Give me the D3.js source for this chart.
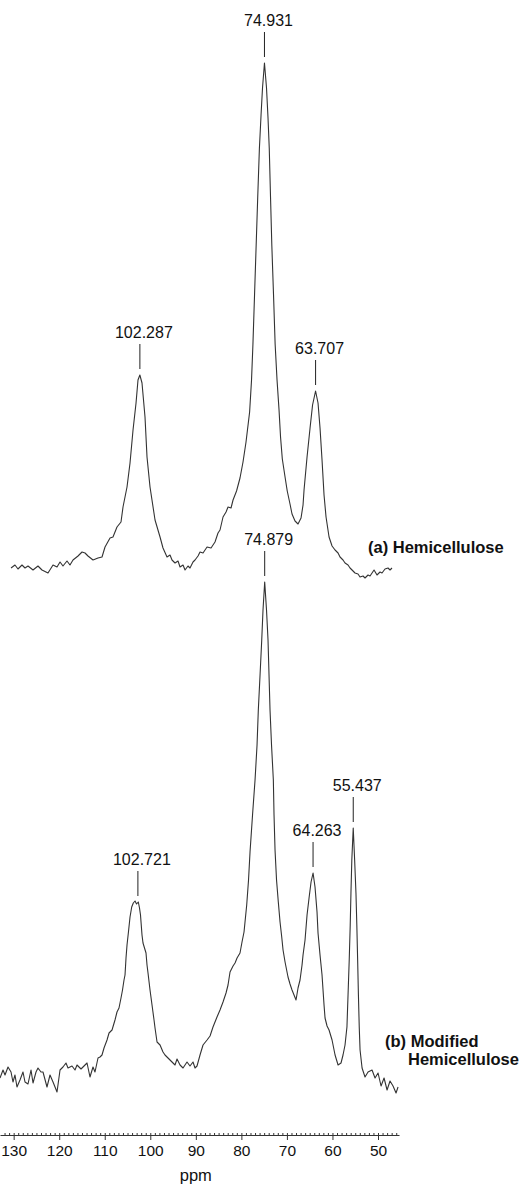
<!DOCTYPE html>
<html>
<head>
<meta charset="utf-8">
<title>13C NMR - Hemicellulose</title>
<script src="https://cdnjs.cloudflare.com/ajax/libs/d3/7.8.5/d3.min.js"></script>
<style>
    body { margin: 0; background: #fff; }
    svg text { font-family: "Liberation Sans", Arial, sans-serif; fill: #111; }
</style>
</head>
<body>
<div id="chart"></div>
<script>
    // [ppm, intensity], arbitrary units
    const spectrumA = [
        [130.58, 0.4], [129.71, 1.0], [129.05, 0.2], [128.17, 1.0], [127.51, 0.4], [126.85, 0.8],
        [125.75, 0.0], [124.66, 0.8], [123.78, 0.0], [122.46, -0.6], [121.36, 1.0], [120.48, 0.6],
        [119.82, 1.6], [119.17, 0.8], [118.29, 1.8], [117.63, 1.0], [116.97, 2.0], [115.87, 2.8],
        [114.99, 3.6], [114.33, 3.4], [113.68, 2.8], [112.58, 2.0], [111.48, 2.4], [110.60, 2.6],
        [109.94, 4.6], [108.84, 6.4], [108.19, 6.6], [107.31, 8.6], [106.43, 9.6], [105.99, 12.6],
        [105.11, 16.6], [104.45, 21.4], [103.79, 28.0], [103.13, 33.4], [102.70, 38.0], [102.29, 39.0],
        [101.82, 37.4], [101.16, 30.6], [100.72, 22.6], [100.06, 16.6], [98.96, 10.0], [97.86, 6.6],
        [97.21, 4.4], [96.33, 2.6], [95.67, 3.0], [95.23, 2.0], [94.57, 1.4], [93.91, 1.8],
        [93.47, 0.6], [92.81, 1.0], [92.37, 0.0], [91.72, 0.8], [91.28, 0.4], [90.62, 1.6],
        [90.18, 2.0], [89.52, 2.8], [89.08, 3.6], [88.42, 3.4], [87.54, 4.6], [86.66, 4.4],
        [85.79, 5.6], [85.13, 7.4], [84.69, 8.0], [84.03, 10.6], [83.37, 11.6], [82.93, 12.6],
        [82.27, 12.4], [81.83, 14.0], [81.06, 15.8], [80.30, 18.4], [79.64, 21.6], [78.98, 25.6],
        [78.19, 31.6], [77.77, 38.0], [77.46, 45.2], [77.11, 55.0], [76.76, 64.8], [76.41, 74.6],
        [76.04, 84.4], [75.68, 91.0], [75.36, 96.4], [74.93, 101.4], [74.48, 96.4], [74.15, 90.4],
        [73.88, 84.4], [73.60, 74.6], [73.31, 64.8], [72.94, 55.0], [72.59, 45.2], [72.17, 38.0],
        [71.73, 32.0], [71.40, 26.6], [71.01, 22.2], [70.41, 18.6], [69.93, 15.8], [69.32, 13.2],
        [68.88, 11.2], [68.22, 9.8], [67.56, 9.2], [66.90, 10.4], [66.46, 13.0], [66.24, 16.0],
        [65.58, 22.6], [64.92, 28.4], [64.37, 33.0], [63.71, 35.8], [63.17, 33.4], [62.73, 28.4],
        [62.29, 22.0], [61.85, 15.0], [61.41, 10.6], [60.75, 6.6], [60.09, 4.8], [59.43, 4.0],
        [58.77, 3.4], [58.34, 2.6], [57.68, 2.0], [57.24, 1.4], [56.58, 1.0], [56.14, 0.4],
        [55.48, -0.2], [55.05, -0.6], [54.39, -0.8], [53.95, -1.4], [53.29, -1.2], [52.85, -1.6],
        [52.19, -1.0], [51.75, -1.2], [51.31, -0.6], [50.87, 0.0], [50.22, -1.0], [49.56, -0.4],
        [49.12, -0.6], [48.46, 0.2], [47.80, 0.4], [47.36, 0.0], [46.93, 0.4]
    ];

    const spectrumB = [
        [133.00, -1.2], [132.34, 0.4], [131.90, -0.6], [131.24, 1.0], [130.58, 0.0], [130.15, -2.0],
        [129.71, -0.6], [129.27, -3.0], [128.61, -1.6], [127.95, 0.0], [127.51, -2.0], [126.85, -2.4],
        [126.19, 0.4], [125.75, -2.2], [125.09, 0.0], [124.66, 0.8], [124.00, 0.0], [123.56, 0.0],
        [122.68, -3.0], [122.02, -0.6], [121.36, -2.0], [120.48, -4.0], [119.82, 0.4], [119.17, 1.0],
        [118.51, 1.8], [118.07, 0.8], [117.19, 1.2], [116.53, 0.4], [116.09, 1.4], [115.21, 0.6],
        [114.33, 1.4], [113.89, 1.8], [113.24, -1.0], [112.58, 1.0], [112.14, 0.0], [111.48, 2.8],
        [111.04, 3.0], [110.60, 3.4], [110.16, 4.8], [109.50, 6.4], [109.06, 7.8], [108.40, 8.4],
        [107.75, 10.4], [107.31, 12.0], [106.87, 12.8], [106.43, 14.8], [106.10, 16.4], [105.77, 18.4],
        [105.55, 19.4], [105.33, 22.8], [105.11, 25.4], [104.82, 27.8], [104.45, 31.0], [104.08, 33.0],
        [103.73, 33.8], [103.35, 34.2], [103.02, 33.6], [102.63, 34.0], [102.37, 32.8], [102.15, 31.4],
        [101.82, 27.4], [101.60, 25.8], [101.27, 24.8], [100.94, 23.8], [100.72, 21.4], [100.50, 19.8],
        [100.06, 16.4], [99.62, 13.4], [99.18, 10.4], [98.96, 8.8], [98.52, 6.0], [97.86, 5.4],
        [97.21, 4.0], [96.77, 3.4], [96.11, 2.8], [95.23, 2.0], [94.57, 1.4], [94.13, 2.6],
        [93.47, 1.4], [92.81, 0.8], [91.94, 2.0], [91.28, 1.2], [90.62, 2.0], [90.18, 0.8],
        [89.74, 1.2], [89.08, 3.4], [88.42, 5.4], [87.54, 6.4], [86.88, 7.2], [86.23, 9.0],
        [85.35, 11.0], [84.69, 12.4], [84.03, 14.0], [83.37, 15.8], [82.93, 17.4], [82.49, 20.0],
        [81.83, 21.2], [81.39, 21.8], [80.95, 22.8], [80.30, 23.8], [79.86, 26.0], [79.42, 28.0],
        [78.83, 33.4], [78.43, 38.4], [78.10, 44.0], [77.55, 51.4], [77.00, 58.4], [76.56, 65.4],
        [76.28, 72.4], [75.90, 79.4], [75.53, 86.4], [75.25, 92.4], [74.88, 98.0], [74.48, 92.4],
        [74.15, 86.4], [73.93, 79.4], [73.71, 72.4], [73.38, 65.4], [72.98, 58.4], [72.83, 51.4],
        [72.61, 44.4], [72.28, 38.4], [71.89, 34.0], [71.51, 30.0], [71.14, 27.0], [70.85, 24.4],
        [70.41, 22.0], [69.76, 19.0], [69.32, 17.6], [68.88, 16.4], [68.44, 15.4], [68.00, 14.4],
        [67.56, 16.8], [67.12, 18.4], [66.68, 21.4], [66.46, 23.4], [66.02, 26.4], [65.58, 31.4],
        [65.14, 34.8], [64.70, 38.0], [64.26, 39.8], [63.83, 37.0], [63.39, 32.0], [63.17, 27.8],
        [62.73, 23.4], [62.29, 19.4], [61.85, 13.4], [61.63, 10.8], [61.19, 9.2], [60.75, 8.4],
        [60.09, 6.4], [59.43, 3.4], [58.77, 1.4], [58.12, 1.8], [57.68, 3.4], [57.24, 5.4],
        [56.82, 9.0], [56.58, 15.4], [56.32, 22.4], [56.10, 29.4], [55.94, 35.8], [55.75, 42.4],
        [55.44, 48.8], [55.13, 42.4], [54.84, 35.8], [54.65, 29.4], [54.47, 22.4], [54.30, 15.4],
        [54.12, 9.0], [53.94, 4.4], [53.50, 0.8], [52.85, -1.0], [52.19, 0.0], [51.31, 0.4],
        [50.65, -1.2], [49.99, -0.2], [49.33, -2.8], [48.67, -1.2], [48.01, -3.6], [47.36, -1.8],
        [46.70, -2.8], [46.04, -4.2], [45.60, -3.0]
    ];

    const peaksA = ["102.287", "74.931", "63.707"];
    const peaksB = ["102.721", "74.879", "64.263", "55.437"];
    const majorTicks = [130, 120, 110, 100, 90, 80, 70, 60, 50];
    const minorTicks = d3.range(46, 133);

    const width = 520, height = 1186;
    const axisY = 1135;

    const svg = d3.select("#chart").append("svg")
        .attr("width", width)
        .attr("height", height);

    const x = d3.scaleLinear().domain([133, 45.39]).range([0, 399]);
    const yA = d3.scaleLinear().domain([0, 100]).range([570, 70]);
    const yB = d3.scaleLinear().domain([0, 100]).range([1072, 572]);

    function drawSpectrum(data, y, peaks) {
        const line = d3.line().x(d => x(d[0])).y(d => y(d[1]));
        svg.append("path")
            .datum(data)
            .attr("fill", "none")
            .attr("stroke", "#333")
            .attr("stroke-width", 1.1)
            .attr("stroke-linejoin", "round")
            .attr("d", line);

        peaks.forEach(p => {
            const v = +p;
            const near = data.filter(d => Math.abs(d[0] - v) <= 0.5);
            const top = y(d3.max(near, d => d[1]));
            const bottom = top - 6, upper = bottom - 25;
            svg.append("line")
                .attr("x1", x(v)).attr("x2", x(v))
                .attr("y1", upper).attr("y2", bottom)
                .attr("stroke", "#222").attr("stroke-width", 1);
            svg.append("text")
                .attr("x", x(v) + 4)
                .attr("y", upper - 6)
                .attr("text-anchor", "middle")
                .attr("font-size", 16)
                .text(p);
        });
    }

    drawSpectrum(spectrumA, yA, peaksA);
    drawSpectrum(spectrumB, yB, peaksB);

    // sample names
    svg.append("text").attr("x", 368).attr("y", 553)
        .attr("font-size", 16.5).attr("font-weight", "bold")
        .text("(a) Hemicellulose");
    svg.append("text").attr("x", 385).attr("y", 1047)
        .attr("font-size", 16.5).attr("font-weight", "bold")
        .text("(b) Modified");
    svg.append("text").attr("x", 408).attr("y", 1065)
        .attr("font-size", 16.5).attr("font-weight", "bold")
        .text("Hemicellulose");

    // ppm axis: minor ticks up, major ticks down with labels
    const minorAxis = svg.append("g")
        .attr("transform", `translate(0,${axisY})`)
        .call(d3.axisBottom(x).tickValues(minorTicks).tickSizeInner(-2).tickSizeOuter(0).tickFormat(""));
    const majorAxis = svg.append("g")
        .attr("transform", `translate(0,${axisY})`)
        .call(d3.axisBottom(x).tickValues(majorTicks).tickSizeInner(5).tickSizeOuter(0).tickPadding(5));
    majorAxis.select(".domain").remove();
    [minorAxis, majorAxis].forEach(g => {
        g.selectAll("path, line").attr("stroke", "#333");
    });
    majorAxis.selectAll("text")
        .attr("font-size", 15.5)
        .attr("font-family", "'Liberation Sans', Arial, sans-serif")
        .attr("fill", "#111");

    svg.append("text")
        .attr("x", x(90))
        .attr("y", 1181)
        .attr("text-anchor", "middle")
        .attr("font-size", 16.5)
        .text("ppm");
</script>
</body>
</html>
